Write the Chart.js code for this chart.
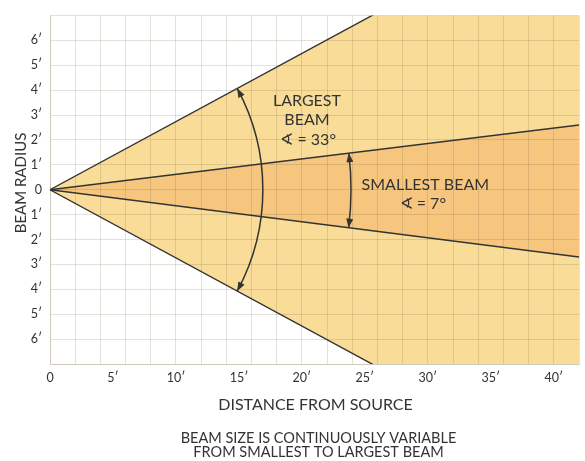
<!DOCTYPE html>
<html>
<head>
<meta charset="utf-8">
<script src="https://cdn.jsdelivr.net/npm/chart.js@4.4.0/dist/chart.umd.min.js"></script>
<style>
  body { margin: 0; background: #fff; }
  #wrap { width: 585px; height: 461px; }
</style>
</head>
<body>
<div id="wrap"><canvas id="beam-chart" width="585" height="461"></canvas></div>
<script>
// values (feet)
const distance = [0, 42];
const smallTop = [0, 2.6];
const smallBottom = [0, -2.7];
const largeTop = [0, 11.5];
const largeBottom = [0, -11.5];
const beamAngles = { small: 7, large: 33 };

const ink = "#333";
const gridColor = "rgba(120, 100, 70, 0.2)";
const font = "Lato, 'Open Sans', sans-serif";

const pts = ys => distance.map((x, i) => ({ x: x, y: ys[i] }));

// arc arrows + free text, positions in data units
const arcs = [
  { radius: 16.9, from: largeTop, to: largeBottom },
  { radius: 23.9, from: smallTop, to: smallBottom }
];
const notes = [
  { x: 20.4, y: 3.57, text: "LARGEST" },
  { x: 20.4, y: 2.8, text: "BEAM" },
  { x: 20.5, y: 2.02, text: "\u2222 = " + beamAngles.large + "\u00B0" },
  { x: 29.8, y: 0.2, text: "SMALLEST BEAM" },
  { x: 29.6, y: -0.56, text: "\u2222 = " + beamAngles.small + "\u00B0" }
];

function arrowHead(ctx, x, y, dx, dy) {
  const len = 9, half = 3.5;
  ctx.beginPath();
  ctx.moveTo(x, y);
  ctx.lineTo(x - dx * len - dy * half, y - dy * len + dx * half);
  ctx.lineTo(x - dx * len + dy * half, y - dy * len - dx * half);
  ctx.closePath();
  ctx.fill();
}

const extras = {
  id: "extras",
  afterDatasetsDraw(chart) {
    const { ctx, scales: { x, y }, chartArea } = chart;
    const ox = x.getPixelForValue(0), oy = y.getPixelForValue(0);
    const last = distance.length - 1;

    ctx.save();
    ctx.strokeStyle = ink;
    ctx.fillStyle = ink;
    ctx.lineWidth = 1.5;
    arcs.forEach(a => {
      const r = x.getPixelForValue(a.radius) - ox;
      const a1 = Math.atan2(y.getPixelForValue(a.from[last]) - oy, x.getPixelForValue(distance[last]) - ox);
      const a2 = Math.atan2(y.getPixelForValue(a.to[last]) - oy, x.getPixelForValue(distance[last]) - ox);
      ctx.beginPath();
      ctx.arc(ox, oy, r, a1, a2, false);
      ctx.stroke();
      arrowHead(ctx, ox + r * Math.cos(a1), oy + r * Math.sin(a1), Math.sin(a1), -Math.cos(a1));
      arrowHead(ctx, ox + r * Math.cos(a2), oy + r * Math.sin(a2), -Math.sin(a2), Math.cos(a2));
    });

    ctx.textAlign = "center";
    ctx.textBaseline = "middle";
    ctx.font = "16px " + font;
    notes.forEach(n => ctx.fillText(n.text, x.getPixelForValue(n.x), y.getPixelForValue(n.y)));

    // axis titles and caption
    const cx = (chartArea.left + chartArea.right) / 2;
    ctx.fillText("DISTANCE FROM SOURCE", cx + 1, 405);
    ctx.font = "14.5px " + font;
    ctx.fillText("BEAM SIZE IS CONTINUOUSLY VARIABLE", cx + 4, 438);
    ctx.fillText("FROM SMALLEST TO LARGEST BEAM", cx + 4, 452);

    ctx.translate(21, 183);
    ctx.rotate(-Math.PI / 2);
    ctx.font = "15px " + font;
    ctx.fillText("BEAM RADIUS", 0, 0);
    ctx.restore();
  }
};

const edge = { borderColor: ink, borderWidth: 1.4, pointRadius: 0, tension: 0 };

new Chart(document.getElementById("beam-chart"), {
  type: "line",
  data: {
    datasets: [
      { ...edge, label: "smallest top", data: pts(smallTop), fill: "+1", backgroundColor: "#f6c67f" },
      { ...edge, label: "smallest bottom", data: pts(smallBottom), fill: false },
      { ...edge, label: "largest top", data: pts(largeTop), fill: "+1", backgroundColor: "#f9dc98" },
      { ...edge, label: "largest bottom", data: pts(largeBottom), fill: false }
    ]
  },
  options: {
    responsive: false,
    animation: false,
    layout: { padding: { top: 11, right: 6, left: 0, bottom: 0 } },
    plugins: {
      legend: { display: false },
      tooltip: { enabled: false },
      filler: { drawTime: "beforeDraw" }
    },
    scales: {
      x: {
        type: "linear",
        min: 0,
        max: 42,
        afterFit: s => { s.height = 97; },
        grid: {
          drawTicks: false,
          color: c => (c.tick && c.tick.value % 2 === 0) ? gridColor : "transparent"
        },
        border: { color: gridColor },
        ticks: {
          stepSize: 1,
          autoSkip: false,
          maxRotation: 0,
          padding: 6,
          color: ink,
          font: { family: font, size: 12.5 },
          callback: v => v % 5 !== 0 ? "" : (v === 0 ? "0" : v + "\u2032")
        }
      },
      y: {
        min: -7,
        max: 7,
        afterFit: s => { s.width = 50; },
        grid: { drawTicks: false, color: gridColor },
        border: { color: gridColor },
        ticks: {
          stepSize: 1,
          padding: 8,
          color: ink,
          font: { family: font, size: 12.5 },
          callback: v => Math.abs(v) > 6 ? "" : (v === 0 ? "0" : Math.abs(v) + "\u2032")
        }
      }
    }
  },
  plugins: [extras]
});
</script>
</body>
</html>
